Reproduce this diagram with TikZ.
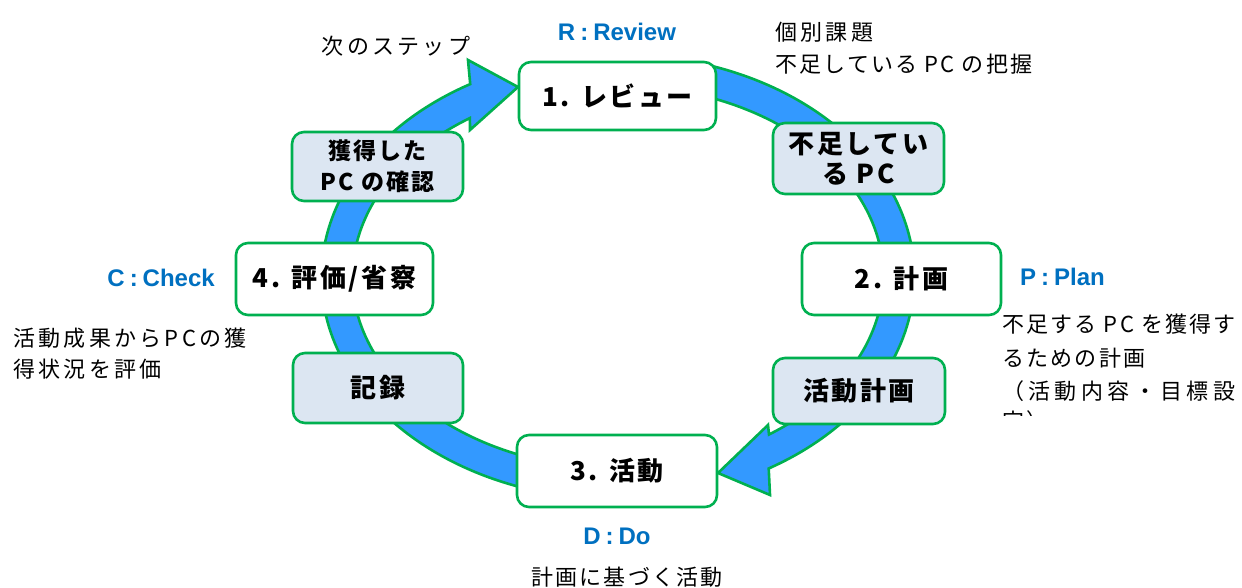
\documentclass[tikz,border=0pt]{standalone}
\usepackage{fontspec}
\newfontfamily\jp{Noto Sans CJK JP}[LetterSpace=10]
\newfontfamily\jpwide{Noto Sans CJK JP}[LetterSpace=20]
\newfontfamily\jpmid{Noto Sans CJK JP}[LetterSpace=15]
\newfontfamily\lat{Liberation Sans}
\definecolor{ringblue}{HTML}{3399FF}
\definecolor{boxgreen}{HTML}{00B050}
\definecolor{boxfill}{HTML}{DCE6F2}
\definecolor{pdcablue}{HTML}{0070C0}
\begin{document}
\begin{tikzpicture}[x=1pt,y=1pt,
  box/.style={draw=boxgreen, line width=2.6pt, rounded corners=12pt, inner sep=0pt, align=center, font=\jp\bfseries\fontsize{26}{30}\selectfont},
  wbox/.style={box, fill=white},
  bbox/.style={box, fill=boxfill},
  lbl/.style={inner sep=0pt, font=\jp\fontsize{22}{30}\selectfont},
  lblw/.style={inner sep=0pt, font=\jpmid\fontsize{22}{30}\selectfont},
  pdca/.style={inner sep=0pt, text=pdcablue, font=\lat\bfseries\fontsize{24}{28}\selectfont},
  ring/.style={fill=ringblue, draw=boxgreen, line width=2.6pt, line join=miter}
]
\useasboundingbox (0,0) rectangle (1242,587);
\fill[white] (0,0) rectangle (1242,587);

% ring arrow A: bottom -> left -> top (head into 1.)
\path[ring] (618,87.5) arc[start angle=270, end angle=119.9, x radius=296.5, y radius=222.5]
  -- (468,527) -- (518,500) -- (470,457) -- (469.9,468.9)
  arc[start angle=123.9, end angle=270, x radius=265.5, y radius=191.5] -- cycle;
% ring arrow B: top -> right -> bottom (head into 3.)
\path[ring] (700,523.8) arc[start angle=73.9, end angle=-59.4, x radius=296.5, y radius=222.5]
  -- (770,92) -- (718,114) -- (768,162) -- (769,152.5)
  arc[start angle=-55.3, end angle=72.0, x radius=265.5, y radius=191.5] -- cycle;

% nodes
\node[wbox, minimum width=197pt, minimum height=68pt] (n1) at (617.5,491) {1. レビュー};
\node[bbox, minimum width=171pt, minimum height=71pt] (nA) at (858.5,428.5) {不足してい\\る PC};
\node[wbox, minimum width=199pt, minimum height=72pt] (n2) at (901.5,308) {2. 計画};
\node[bbox, minimum width=172pt, minimum height=66pt] (nB) at (859,196) {活動計画};
\node[wbox, minimum width=200pt, minimum height=72pt] (n3) at (617,116) {3. 活動};
\node[bbox, minimum width=170pt, minimum height=70pt] (nC) at (378,199) {記録};
\node[wbox, minimum width=197pt, minimum height=72pt] (n4) at (334.5,308) {4. 評価/省察};
\node[bbox, minimum width=171pt, minimum height=69pt, font=\jp\bfseries\fontsize{23}{31}\selectfont] (nD) at (377.5,420.5) {獲得した\\PC の確認};

% labels
\node[pdca] (lR) at (617,555) {R\hspace{5pt}:\hspace{5pt}Review};
\node[pdca, anchor=west] (lP) at (1020,310) {P\hspace{5pt}:\hspace{5pt}Plan};
\node[pdca, anchor=east] (lC) at (215,309) {C\hspace{5pt}:\hspace{5pt}Check};
\node[pdca] (lD) at (617,51) {D\hspace{5pt}:\hspace{5pt}Do};

\node[lblw, anchor=west] (r1) at (775,555) {個別課題};
\node[lbl, anchor=west] (r2) at (775,523) {不足している PC の把握};
\node[lblw] (next) at (396,541) {次のステップ};
\begin{scope}
\clip (990,172) rectangle (1242,290);
\node[lbl, anchor=west] (p1) at (1002,263) {不足する PC を獲得す};
\node[lbl, anchor=west] (p2) at (1002,229) {るための計画};
\node[lbl, anchor=west, font=\jpwide\fontsize{22}{30}\selectfont] (p3) at (1002,196) {（活動内容・目標設};
\node[lbl, anchor=west] (p4) at (1002,166) {定）};
\end{scope}
\node[lblw, anchor=west] (c1) at (13,249) {活動成果からPCの獲};
\node[lblw, anchor=west] (c2) at (13,218) {得状況を評価};
\node[lbl] (d1) at (627,10) {計画に基づく活動};
\end{tikzpicture}
\end{document}
